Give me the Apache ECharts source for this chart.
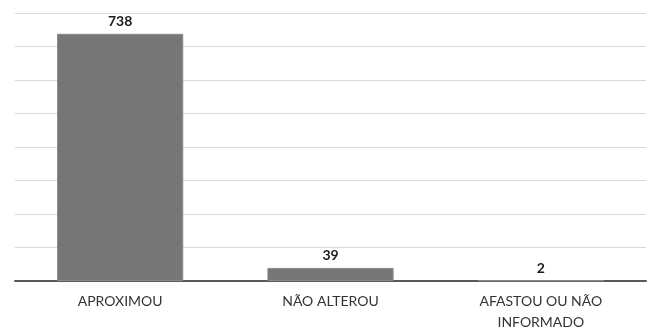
<!DOCTYPE html>
<html>
<head>
<meta charset="utf-8">
<script src="https://cdn.jsdelivr.net/npm/echarts@6/dist/echarts.min.js"></script>
<style>
  html, body { margin: 0; padding: 0; background: #fff; }
  #chart { width: 651px; height: 333px; }
</style>
</head>
<body>
<div id="chart"></div>
<script>
const categories = ['APROXIMOU', 'NÃO ALTEROU', 'AFASTOU OU NÃO\nINFORMADO'];
const values = [738, 39, 2];
const axisMax = 800;
const axisStep = 100;

const chart = echarts.init(document.getElementById('chart'), null, { renderer: 'canvas' });
chart.setOption({
  animation: false,
  backgroundColor: '#ffffff',
  textStyle: { fontFamily: 'Lato, "Open Sans", sans-serif' },
  grid: { left: 15, right: 5, top: 13, bottom: 49, containLabel: false },
  xAxis: {
    type: 'category',
    data: categories,
    axisTick: { show: false },
    axisLine: { lineStyle: { color: '#595959', width: 2 } },
    axisLabel: {
      color: '#333333',
      fontSize: 14,
      lineHeight: 21,
      margin: 10,
      interval: 0
    }
  },
  yAxis: {
    type: 'value',
    min: 0,
    max: axisMax,
    interval: axisStep,
    axisLabel: { show: false },
    axisLine: { show: false },
    axisTick: { show: false },
    splitLine: { lineStyle: { color: '#d9d9d9', width: 1 } }
  },
  series: [{
    type: 'bar',
    data: values,
    barWidth: '60%',
    itemStyle: { color: '#767676', borderColor: '#8a8a8a', borderWidth: 1 },
    label: {
      show: true,
      position: 'top',
      distance: 5,
      color: '#1a1a1a',
      fontWeight: 'bold',
      fontSize: 14
    }
  }]
});
</script>
</body>
</html>
